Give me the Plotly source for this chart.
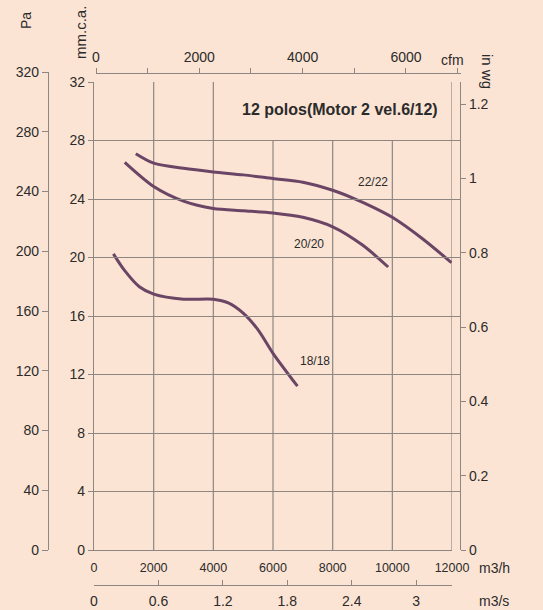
import plotly.graph_objects as go

W, H = 543, 610

# curve data: flow in m3/h, pressure in mm.c.a.
flow_22 = [1400, 2000, 3000, 4000, 5000, 6000, 7000, 8000, 8700, 9400, 10000, 11000, 11980]
pres_22 = [27.1, 26.45, 26.1, 25.85, 25.65, 25.4, 25.15, 24.6, 24.05, 23.4, 22.75, 21.3, 19.65]

flow_20 = [1030, 2000, 3000, 4000, 5000, 6000, 7000, 8000, 9000, 9860]
pres_20 = [26.5, 24.85, 23.85, 23.35, 23.2, 23.05, 22.75, 22.1, 20.85, 19.35]

flow_18 = [650, 1030, 1520, 2000, 3000, 4000, 4500, 5000, 5500, 6000, 6820]
pres_18 = [20.25, 19.1, 18.0, 17.5, 17.15, 17.15, 16.9, 16.2, 15.05, 13.45, 11.2]

curve_names = ['22/22', '20/20', '18/18']
label_pos = [(9350, 25.15), (7210, 20.9), (7420, 12.9)]

title_text = '12 polos(Motor 2 vel.6/12)'

flow_ticks = [0, 2000, 4000, 6000, 8000, 10000, 12000]
mm_ticks = [0, 4, 8, 12, 16, 20, 24, 28, 32]
pa_ticks = [0, 40, 80, 120, 160, 200, 240, 280, 320]
inwg_ticks = [0, 0.2, 0.4, 0.6, 0.8, 1, 1.2]
cfm_ticks = [0, 2000, 4000, 6000]
m3s_ticks = [0, 0.6, 1.2, 1.8, 2.4, 3]

BG = '#FCE4D4'
GRID = '#8E8682'
CURVE = '#6B4565'
TXT = '#2b2b2b'
FONT = 'Liberation Sans, Arial, sans-serif'


def px_x(p):
    return p / W


def px_y(p):
    return 1 - p / H


def labels(vals):
    return [('%g' % v) for v in vals]


fig = go.Figure()

for fl, pr, nm in zip([flow_22, flow_20, flow_18], [pres_22, pres_20, pres_18], curve_names):
    fig.add_trace(go.Scatter(x=fl, y=pr, mode='lines', name=nm,
                             line=dict(color=CURVE, width=3, shape='spline', smoothing=0.8),
                             showlegend=False))

# dummy traces so the extra axes get drawn
fig.add_trace(go.Scatter(x=[None], y=[None], xaxis='x', yaxis='y2', showlegend=False, hoverinfo='skip'))
fig.add_trace(go.Scatter(x=[None], y=[None], xaxis='x2', yaxis='y', showlegend=False, hoverinfo='skip'))
fig.add_trace(go.Scatter(x=[None], y=[None], xaxis='x3', yaxis='y3', showlegend=False, hoverinfo='skip'))

# vertical grid lines (the ones under the title box stop at 28)
for fx in flow_ticks[1:]:
    top = 32 if fx <= 4000 or fx == 12000 else 28
    fig.add_shape(type='line', xref='x', yref='y', x0=fx, x1=fx, y0=0, y1=top,
                  line=dict(color=GRID, width=1.2), layer='below')

for (lx, ly), nm in zip(label_pos, curve_names):
    fig.add_annotation(x=lx, y=ly, xref='x', yref='y', text=nm, showarrow=False,
                       font=dict(size=12, color=TXT, family=FONT))

fig.add_annotation(x=8250, y=30.1, xref='x', yref='y', text='<b>' + title_text + '</b>',
                   showarrow=False, font=dict(size=16, color=TXT, family=FONT))

unit_labels = [
    ('Pa', 26, 21, -90, 14),
    ('mm.c.a.', 81, 33, -90, 15),
    ('cfm', 452, 60, 0, 14),
    ('in wg', 488, 71, 90, 15),
    ('m3/h', 494, 568, 0, 14),
    ('m3/s', 494, 601, 0, 14),
]
for t, x, y, ang, sz in unit_labels:
    fig.add_annotation(x=px_x(x), y=px_y(y), xref='paper', yref='paper', text=t,
                       showarrow=False, textangle=ang, xanchor='center', yanchor='middle',
                       font=dict(size=sz, color=TXT, family=FONT))

axis_common = dict(showline=True, linecolor=GRID, linewidth=1.2, tickcolor=GRID,
                   tickfont=dict(size=14, color=TXT, family=FONT), zeroline=False,
                   automargin=False)

fig.update_layout(
    template='none',
    width=W, height=H,
    margin=dict(l=0, r=0, t=0, b=0),
    paper_bgcolor=BG, plot_bgcolor='rgba(0,0,0,0)',
    xaxis=dict(domain=[px_x(94), px_x(452)], range=[0, 12000], tickvals=flow_ticks,
               ticktext=labels(flow_ticks),
               ticks='', ticklabelstandoff=6, showgrid=False, anchor='y',
               **{**axis_common, 'tickfont': dict(size=12.5, color=TXT, family=FONT)}),
    yaxis=dict(domain=[px_y(550), px_y(82)], range=[0, 32], tickvals=mm_ticks,
               ticktext=labels(mm_ticks),
               ticks='outside', ticklen=5, showgrid=True, gridcolor=GRID, gridwidth=1.2,
               anchor='x', **axis_common),
    yaxis2=dict(domain=[px_y(550), px_y(72)], range=[0, 320], tickvals=pa_ticks,
                ticktext=labels(pa_ticks),
                ticks='outside', ticklen=6, showgrid=False, anchor='free',
                position=px_x(48), **axis_common),
    xaxis2=dict(domain=[px_x(96), px_x(461)], range=[0, 7065], tickvals=cfm_ticks,
                ticktext=labels(cfm_ticks),
                ticks='outside', ticklen=5, side='top', showgrid=False, anchor='free',
                position=px_y(73),
                minor=dict(dtick=1000, ticks='outside', ticklen=5, tickcolor=GRID),
                **axis_common),
    xaxis3=dict(overlaying='x', range=[0, 12000 / 3600], tickvals=m3s_ticks,
                ticktext=labels(m3s_ticks),
                ticks='inside', ticklen=5, side='bottom', showgrid=False, anchor='free',
                position=px_y(585), ticklabelstandoff=3, **axis_common),
    yaxis3=dict(overlaying='y', range=[0, 32 / 25.4], tickvals=inwg_ticks,
                ticktext=labels(inwg_ticks),
                ticks='outside', ticklen=5, side='right', showgrid=False, anchor='free',
                position=px_x(460), **axis_common),
)

# drop the default page margin so the figure sits at the window's corner
fig.write_html('out.html', config={'displayModeBar': False},
               post_script="document.body.style.margin='0';"
                           "document.body.style.background='%s';" % BG)
